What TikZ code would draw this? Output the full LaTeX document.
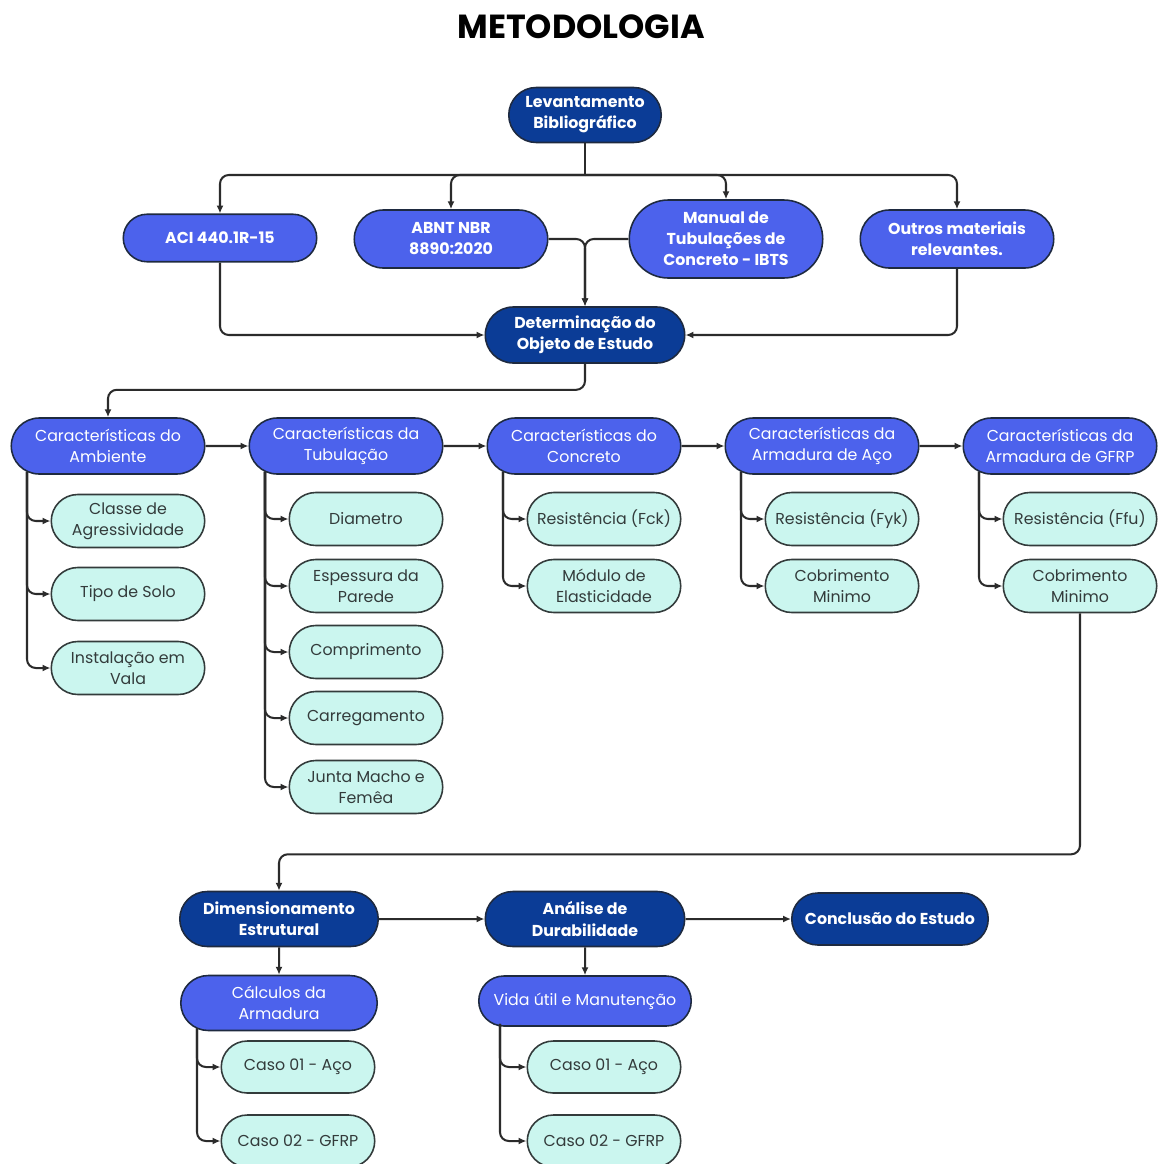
\documentclass[tikz,border=0pt]{standalone}
\usepackage{fontspec}
\setmainfont{Poppins}
\usetikzlibrary{positioning,arrows.meta,shapes.misc,calc}
\definecolor{navy}{HTML}{0B3C96}
\definecolor{royal}{HTML}{4C62EC}
\definecolor{aqua}{HTML}{CBF6EF}
\definecolor{edge}{HTML}{1E2A40}
\definecolor{wire}{HTML}{2B2B2B}
\definecolor{ink}{HTML}{333B3B}

\begin{document}
\begin{tikzpicture}[x=0.02cm, y=-0.02cm,
    every node/.style={align=center, font=\fontsize{9}{12}\selectfont},
    pill/.style={rounded rectangle, draw=edge, line width=0.9pt, inner sep=1pt},
    navyNode/.style={pill, fill=navy, text=white, font=\fontsize{9}{12}\selectfont\bfseries},
    refNode/.style={pill, fill=royal, text=white, font=\fontsize{9}{12}\selectfont\bfseries,
        minimum width=3.94cm, minimum height=1.16cm},
    charNode/.style={pill, fill=royal, text=white, minimum width=3.94cm, minimum height=1.12cm},
    subNode/.style={pill, fill=aqua, text=ink, draw=ink, minimum width=3.14cm, minimum height=1.06cm},
    wireLine/.style={draw=wire, line width=1.15pt, rounded corners=5pt},
    arrowLine/.style={wireLine, -{Latex[length=4.5pt,width=4pt]}}
]
    \useasboundingbox (0,0) rectangle (1158,1164);

    % Titulo
    \node[font=\fontsize{19}{22}\selectfont\bfseries] (title) at (581,27) {METODOLOGIA};

    % Levantamento e referencias
    \node[navyNode, minimum width=3.12cm, minimum height=1.1cm] (lev) at (585,115) {Levantamento\\Bibliográfico};
    \node[refNode, minimum height=0.95cm] (aci) at (220,238) {ACI 440.1R-15};
    \node[refNode] (abnt) at (451,239) {ABNT NBR\\8890:2020};
    \node[refNode, minimum height=1.56cm] (ibts) at (726,239) {Manual de\\Tubulações de\\Concreto - IBTS};
    \node[refNode] (outros) at (957,239) {Outros materiais\\relevantes.};

    \node[navyNode, minimum width=4.06cm, minimum height=1.12cm] (obj) at (585,335) {Determinação do\\Objeto de Estudo};

    \coordinate (bus) at (585,175);
    \draw[wireLine] (lev.south) -- (bus);
    \foreach \r in {aci,abnt,ibts,outros}
        \draw[arrowLine] (bus) -| (\r.north);
    \draw[arrowLine] (abnt.east) -| (obj.north);
    \draw[arrowLine] (ibts.west) -| (obj.north);
    \draw[arrowLine] (aci.south) |- (obj.west);
    \draw[arrowLine] (outros.south) |- (obj.east);

    % Caracteristicas
    \node[charNode] (amb) at (108,446) {Características do\\Ambiente};
    \node[charNode] (tub) at (346,446) {Características da\\Tubulação};
    \node[charNode] (con) at (584,446) {Características do\\Concreto};
    \node[charNode] (aco) at (822,446) {Características da\\Armadura de Aço};
    \node[charNode] (gfr) at (1060,446) {Características da\\Armadura de GFRP};

    \draw[arrowLine] (obj.south) -- ++(0,26) -| (amb.north);
    \draw[arrowLine] (amb) -- (tub);
    \draw[arrowLine] (tub) -- (con);
    \draw[arrowLine] (con) -- (aco);
    \draw[arrowLine] (aco) -- (gfr);

    % Subitens
    \node[subNode] (amb1) at (128,521) {Classe de\\Agressividade};
    \node[subNode] (amb2) at (128,594) {Tipo de Solo};
    \node[subNode] (amb3) at (128,668) {Instalação em\\Vala};

    \node[subNode] (tub1) at (366,519) {Diametro};
    \node[subNode] (tub2) at (366,586) {Espessura da\\Parede};
    \node[subNode] (tub3) at (366,652) {Comprimento};
    \node[subNode] (tub4) at (366,718) {Carregamento};
    \node[subNode] (tub5) at (366,787) {Junta Macho e\\Femêa};

    \node[subNode] (con1) at (604,519) {Resistência (Fck)};
    \node[subNode] (con2) at (604,586) {Módulo de\\Elasticidade};

    \node[subNode] (aco1) at (842,519) {Resistência (Fyk)};
    \node[subNode] (aco2) at (842,586) {Cobrimento\\Minimo};

    \node[subNode] (gfr1) at (1080,519) {Resistência (Ffu)};
    \node[subNode] (gfr2) at (1080,586) {Cobrimento\\Minimo};

    \foreach \s in {amb1,amb2,amb3}
        \draw[arrowLine] ($(amb.south)+(-81,-3)$) |- (\s.west);
    \foreach \s in {tub1,tub2,tub3,tub4,tub5}
        \draw[arrowLine] ($(tub.south)+(-81,-3)$) |- (\s.west);
    \foreach \s in {con1,con2}
        \draw[arrowLine] ($(con.south)+(-81,-3)$) |- (\s.west);
    \foreach \s in {aco1,aco2}
        \draw[arrowLine] ($(aco.south)+(-81,-3)$) |- (\s.west);
    \foreach \s in {gfr1,gfr2}
        \draw[arrowLine] ($(gfr.south)+(-81,-3)$) |- (\s.west);

    % Etapas finais
    \node[navyNode, minimum width=4.04cm, minimum height=1.1cm] (dim) at (279,919) {Dimensionamento\\Estrutural};
    \node[navyNode, minimum width=4.06cm, minimum height=1.1cm] (dur) at (585,919) {Análise de\\Durabilidade};
    \node[navyNode, minimum width=4.0cm, minimum height=1.04cm] (fim) at (890,919) {Conclusão do Estudo};

    \draw[arrowLine] (gfr2.south) -- ++(0,241) -| (dim.north);
    \draw[arrowLine] (dim) -- (dur);
    \draw[arrowLine] (dur) -- (fim);

    \node[charNode, minimum width=4.0cm, minimum height=1.1cm] (calc) at (279,1003) {Cálculos da\\Armadura};
    \node[charNode, minimum width=4.32cm, minimum height=1.0cm] (vida) at (585,1001) {Vida útil e Manutenção};
    \draw[arrowLine] (dim) -- (calc);
    \draw[arrowLine] (dur) -- (vida);

    \node[subNode, minimum height=1.04cm] (dimA) at (298,1067) {Caso 01 - Aço};
    \node[subNode, minimum height=1.04cm] (dimB) at (298,1141) {Caso 02 - GFRP};
    \node[subNode, minimum height=1.04cm] (durA) at (604,1067) {Caso 01 - Aço};
    \node[subNode, minimum height=1.04cm] (durB) at (604,1141) {Caso 02 - GFRP};

    \foreach \s in {dimA,dimB}
        \draw[arrowLine] ($(calc.south)+(-82,-3)$) |- (\s.west);
    \foreach \s in {durA,durB}
        \draw[arrowLine] ($(vida.south)+(-85,-3)$) |- (\s.west);
\end{tikzpicture}
\end{document}
